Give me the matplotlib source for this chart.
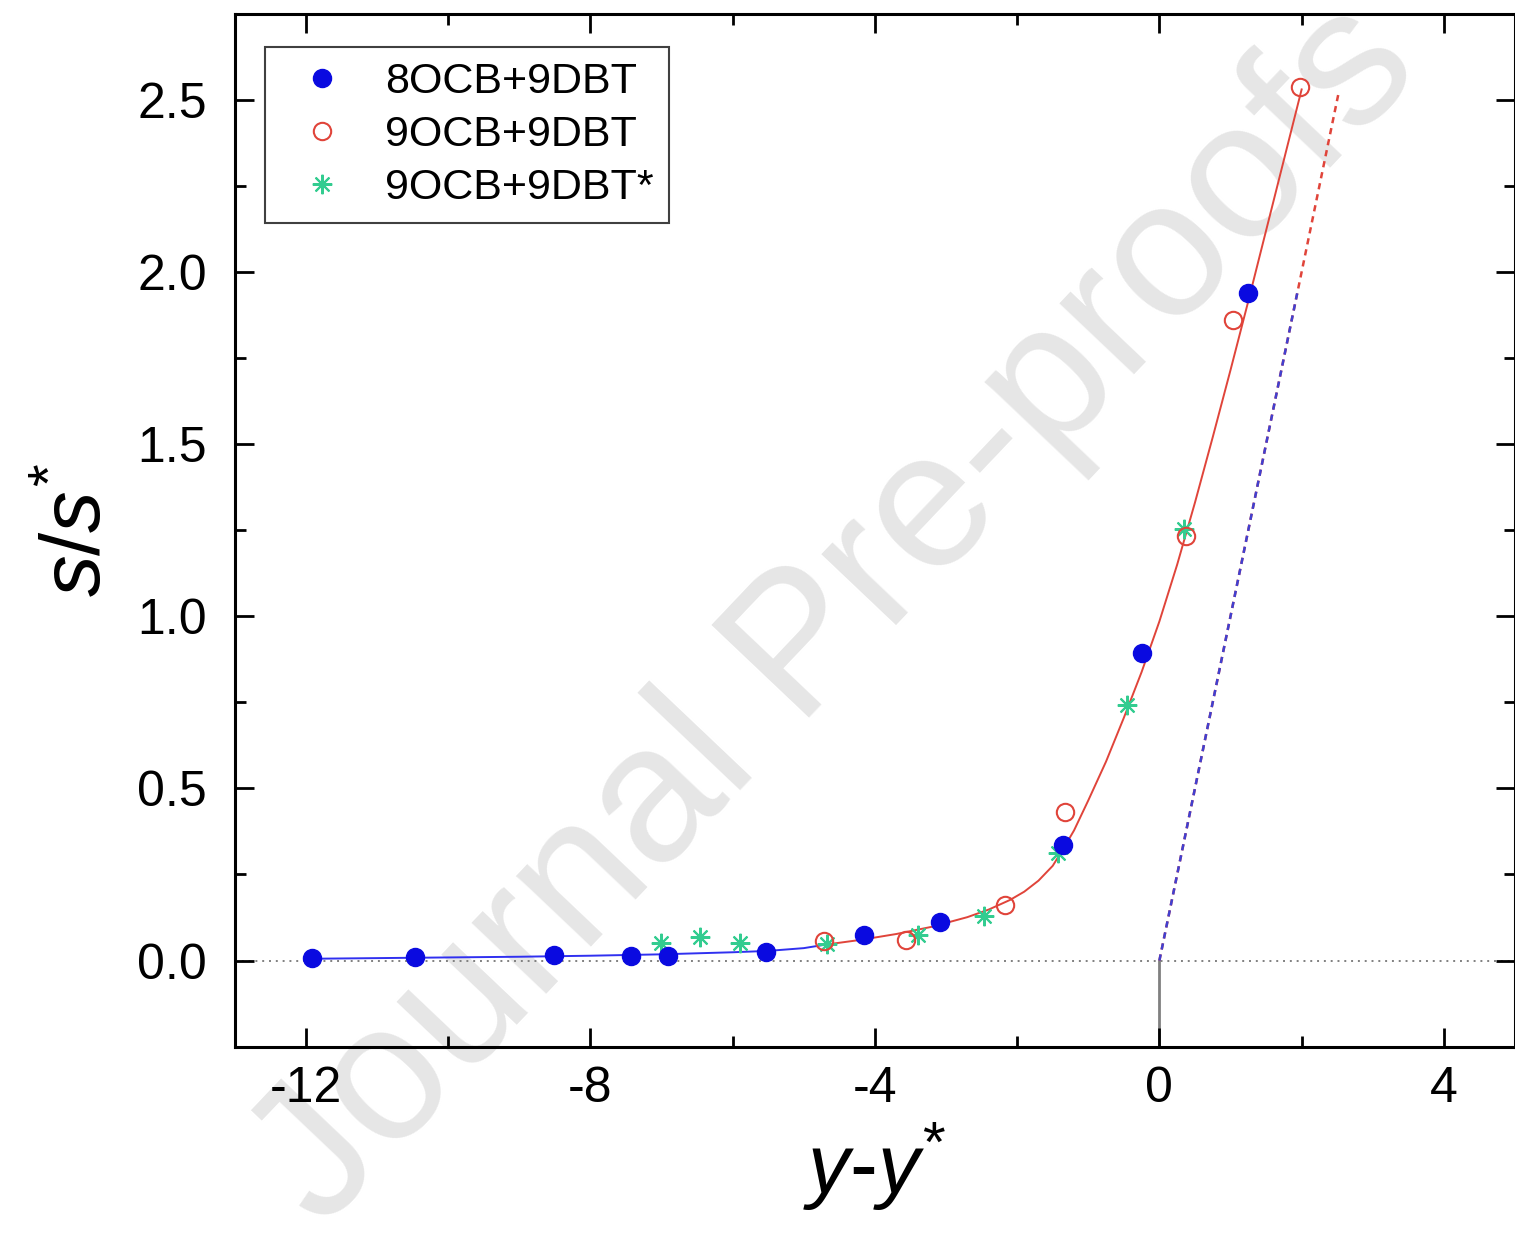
import matplotlib
matplotlib.use("Agg")
import matplotlib.pyplot as plt
from matplotlib.ticker import MultipleLocator

plt.rcParams["font.family"] = ["Liberation Sans", "DejaVu Sans"]
plt.rcParams["mathtext.fontset"] = "custom"
plt.rcParams["mathtext.it"] = "Liberation Sans:italic"
plt.rcParams["mathtext.rm"] = "Liberation Sans"

# 8OCB+9DBT (filled blue)
b_x = [-11.92, -10.47, -8.51, -7.43, -6.91, -5.53, -4.16, -3.08, -1.35, -0.25, 1.25]
b_y = [0.006, 0.010, 0.016, 0.012, 0.013, 0.024, 0.074, 0.113, 0.336, 0.893, 1.940]
# 9OCB+9DBT (open red)
r_x = [-4.71, -3.56, -2.17, -1.33, 0.37, 1.04, 1.98]
r_y = [0.056, 0.061, 0.160, 0.432, 1.233, 1.859, 2.538]
# 9OCB+9DBT* (green stars)
g_x = [-7.01, -6.46, -5.90, -4.67, -3.39, -2.47, -1.43, -0.45, 0.35]
g_y = [0.050, 0.067, 0.052, 0.048, 0.075, 0.128, 0.313, 0.742, 1.253]

# fit curves
fit_b_x = [-12.0, -11.0, -10.0, -9.0, -8.0, -7.0, -6.0, -5.5, -5.0, -4.7]
fit_b_y = [0.005, 0.007, 0.009, 0.011, 0.014, 0.018, 0.024, 0.028, 0.036, 0.046]
fit_r_x = [-4.7, -4.2, -3.7, -3.2, -2.7, -2.4, -2.1, -1.9, -1.7, -1.5, -1.35,
           -1.2, -1.0, -0.75, -0.5, -0.25, 0.0, 0.25, 0.5, 0.75, 1.0, 1.25,
           1.5, 1.75, 2.0]
fit_r_y = [0.046, 0.060, 0.077, 0.098, 0.126, 0.148, 0.176, 0.200, 0.232, 0.275,
           0.325, 0.378, 0.465, 0.578, 0.705, 0.838, 0.985, 1.150, 1.330, 1.520,
           1.715, 1.915, 2.120, 2.325, 2.530]
# asymptotes
dash_r_x = [0.0, 2.52]
dash_r_y = [0.0, 2.52]
dash_b_x = [0.0, 1.95]
dash_b_y = [0.0, 1.95]

BLUE = "#0a0ae0"
RED = "#e0443a"
GREEN = "#33cc90"

fig = plt.figure(figsize=(15.15, 12.43), dpi=100)
fig.text(0.552, 0.505, "Journal Pre-proofs", rotation=46.5, fontsize=140,
         color="#e6e6e6", ha="center", va="center", rotation_mode="anchor", zorder=-1)
ax = fig.add_axes([0.155, 0.158, 0.845, 0.831])
ax.set_facecolor("none")

ax.axhline(0, color="#808080", lw=1.4, ls=(0, (1, 2.5)), zorder=1)
ax.plot([0, 0], [-0.25, 0], color="#808080", lw=2, zorder=1)

ax.plot(dash_r_x, dash_r_y, color=RED, lw=1.8, ls=(0, (2.5, 2)), zorder=2)
ax.plot(dash_b_x, dash_b_y, color="#4040d0", lw=1.8, ls=(0, (2.5, 2)), zorder=2)
ax.plot(fit_b_x, fit_b_y, color="#3030f0", lw=1.4, zorder=2)
ax.plot(fit_r_x, fit_r_y, color=RED, lw=1.4, zorder=2)

ax.plot(b_x, b_y, "o", color=BLUE, ms=13, mec=BLUE, ls="none", zorder=4, label="8OCB+9DBT")
ax.plot(r_x, r_y, "o", mfc="none", mec=RED, mew=1.5, ms=12.5, ls="none", zorder=4,
        label="9OCB+9DBT")
ax.plot(g_x, g_y, marker=(8, 2, 0), color=GREEN, mew=1.5, ms=14, ls="none", zorder=3,
        label="9OCB+9DBT*")

ax.set_xlim(-13, 5)
ax.set_ylim(-0.25, 2.75)
ax.xaxis.set_major_locator(MultipleLocator(4))
ax.xaxis.set_minor_locator(MultipleLocator(2))
ax.yaxis.set_major_locator(MultipleLocator(0.5))
ax.yaxis.set_minor_locator(MultipleLocator(0.25))
ax.tick_params(which="both", direction="in", top=True, right=True, width=2)
ax.tick_params(which="major", length=14, labelsize=36)
ax.tick_params(which="minor", length=8)
ax.tick_params(axis="x", which="major", pad=14)
ax.tick_params(axis="y", which="major", pad=20)
ax.set_xticks([-12, -8, -4, 0, 4])
ax.set_xticklabels(["-12", "-8", "-4", "0", "4"])
ax.set_yticks([0.0, 0.5, 1.0, 1.5, 2.0, 2.5])
ax.set_yticklabels(["0.0", "0.5", "1.0", "1.5", "2.0", "2.5"])
for sp in ax.spines.values():
    sp.set_linewidth(2.2)

ax.set_xlabel(r"$y$-$y^{*}$", fontsize=60, labelpad=6)
ax.set_ylabel(r"$s/s^{*}$", fontsize=60, labelpad=14)

leg = ax.legend(loc="upper left", bbox_to_anchor=(0.0234, 0.968), borderaxespad=0,
                fontsize=31, frameon=True, fancybox=False, framealpha=1,
                edgecolor="#404040", handlelength=1.95, handletextpad=0.5,
                labelspacing=0.3, borderpad=0.35, numpoints=1)
leg.get_frame().set_linewidth(1.5)

fig.savefig("out.png", dpi=100)
